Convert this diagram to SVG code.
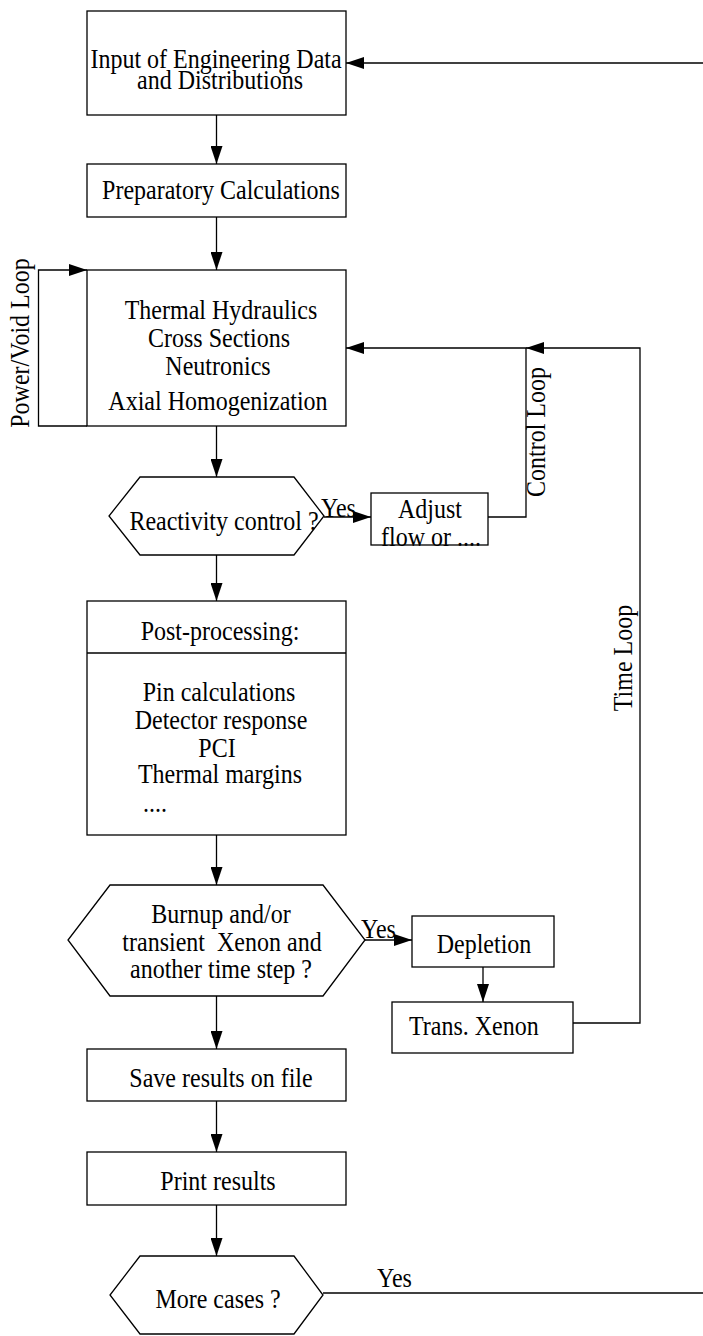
<svg xmlns="http://www.w3.org/2000/svg" width="703" height="1336" viewBox="0 0 703 1336">
<style>
.n{fill:#fff;stroke:#000;stroke-width:1.3}
.t{font-family:"Liberation Serif","Times New Roman",serif;font-size:24px;fill:#000;text-anchor:middle}
.s{text-anchor:start}
.c{fill:none;stroke:#000;stroke-width:1.3}
</style>
<defs>
<marker id="ah" viewBox="0 0 18 12" refX="18" refY="6" markerWidth="18" markerHeight="12" markerUnits="userSpaceOnUse" orient="auto">
<path d="M0,0 L18,6 L0,12 z" fill="#000"/>
</marker>
</defs>
<rect width="703" height="1336" fill="#fff"/>
<g id="connectors">
<path class="c" d="M703,63 L346,63" marker-end="url(#ah)"/>
<path class="c" d="M216.5,115 L216.5,164" marker-end="url(#ah)"/>
<path class="c" d="M216.5,217 L216.5,270" marker-end="url(#ah)"/>
<path class="c" d="M87,426 L38.5,426 L38.5,270 L87,270" marker-end="url(#ah)"/>
<path class="c" d="M216.5,426 L216.5,477" marker-end="url(#ah)"/>
<path class="c" d="M324,517 L371,517" marker-end="url(#ah)"/>
<path class="c" d="M488,517 L526,517 L526,348 L346,348" marker-end="url(#ah)"/>
<path class="c" d="M573,1023 L640,1023 L640,348 L526,348" marker-end="url(#ah)"/>
<path class="c" d="M216.5,555 L216.5,601" marker-end="url(#ah)"/>
<path class="c" d="M216.5,835 L216.5,885" marker-end="url(#ah)"/>
<path class="c" d="M365,940 L412,940" marker-end="url(#ah)"/>
<path class="c" d="M483,967 L483,1002" marker-end="url(#ah)"/>
<path class="c" d="M216.5,996 L216.5,1049" marker-end="url(#ah)"/>
<path class="c" d="M216.5,1101 L216.5,1152" marker-end="url(#ah)"/>
<path class="c" d="M216.5,1205 L216.5,1256" marker-end="url(#ah)"/>
<path class="c" d="M323,1293 L703,1293"/>
<text class="t" transform="translate(29,343) rotate(-90) scale(1,1.15)">Power/Void Loop</text>
<text class="t" transform="translate(545,432) rotate(-90) scale(1,1.15)">Control Loop</text>
<text class="t" transform="translate(632,658) rotate(-90) scale(1,1.15)">Time Loop</text>
<text class="t s" transform="matrix(1,0,0,1.15,321,517)">Yes</text>
<text class="t s" transform="matrix(1,0,0,1.15,361,938)">Yes</text>
<text class="t s" transform="matrix(1,0,0,1.15,377,1287)">Yes</text>
</g>
<g id="input">
<rect class="n" x="87" y="11" width="259" height="104"/>
<text class="t" transform="matrix(1,0,0,1.15,216,68)">Input of Engineering Data</text>
<text class="t" transform="matrix(1,0,0,1.15,220,89)">and Distributions</text>
</g>
<g id="prep">
<rect class="n" x="87" y="164" width="259" height="53"/>
<text class="t" transform="matrix(1,0,0,1.15,221,199)">Preparatory Calculations</text>
</g>
<g id="thermal">
<rect class="n" x="87" y="270" width="259" height="156"/>
<text class="t" transform="matrix(1,0,0,1.15,221,319)">Thermal Hydraulics</text>
<text class="t" transform="matrix(1,0,0,1.15,219,347)">Cross Sections</text>
<text class="t" transform="matrix(1,0,0,1.15,218,375)">Neutronics</text>
<text class="t" transform="matrix(1,0,0,1.15,218,410)">Axial Homogenization</text>
</g>
<g id="reactivity">
<polygon class="n" points="140,477 294,477 324,516 294,555 140,555 109,516"/>
<text class="t" transform="matrix(1,0,0,1.15,224,530)">Reactivity control ?</text>
</g>
<g id="adjust">
<text class="t" transform="matrix(1,0,0,1.15,431,546)">flow or ....</text>
<rect x="371" y="493" width="117" height="52" fill="none" stroke="#000" stroke-width="1.3"/>
<text class="t" transform="matrix(1,0,0,1.15,430,518)">Adjust</text>
</g>
<g id="post">
<rect class="n" x="87" y="601" width="259" height="234"/>
<line class="c" x1="87" y1="653" x2="346" y2="653"/>
<text class="t" transform="matrix(1,0,0,1.15,220,640)">Post-processing:</text>
<text class="t" transform="matrix(1,0,0,1.15,219,701)">Pin calculations</text>
<text class="t" transform="matrix(1,0,0,1.15,221,729)">Detector response</text>
<text class="t" transform="matrix(1,0,0,1.15,217,757)">PCI</text>
<text class="t" transform="matrix(1,0,0,1.15,220,783)">Thermal margins</text>
<text class="t s" transform="matrix(1,0,0,1.15,143,812)">....</text>
</g>
<g id="burnup">
<polygon class="n" points="110,885 323,885 365,940 323,996 110,996 68,940"/>
<text class="t" transform="matrix(1,0,0,1.15,221,923)">Burnup and/or</text>
<text class="t" transform="matrix(1,0,0,1.15,222,951)" xml:space="preserve">transient  Xenon and</text>
<text class="t" transform="matrix(1,0,0,1.15,221,978)">another time step ?</text>
</g>
<g id="depletion">
<rect class="n" x="412" y="916" width="142" height="51"/>
<text class="t" transform="matrix(1,0,0,1.15,484,953)">Depletion</text>
</g>
<g id="transxenon">
<rect class="n" x="392" y="1002" width="181" height="51"/>
<text class="t s" transform="matrix(1,0,0,1.15,409,1035)">Trans. Xenon</text>
</g>
<g id="save">
<rect class="n" x="87" y="1049" width="259" height="52"/>
<text class="t" transform="matrix(1,0,0,1.15,221,1087)">Save results on file</text>
</g>
<g id="print">
<rect class="n" x="87" y="1152" width="259" height="53"/>
<text class="t" transform="matrix(1,0,0,1.15,218,1190)">Print results</text>
</g>
<g id="more">
<polygon class="n" points="140,1256 294,1256 323,1295 294,1334 140,1334 110,1295"/>
<text class="t" transform="matrix(1,0,0,1.15,218,1308)">More cases ?</text>
</g>
</svg>
